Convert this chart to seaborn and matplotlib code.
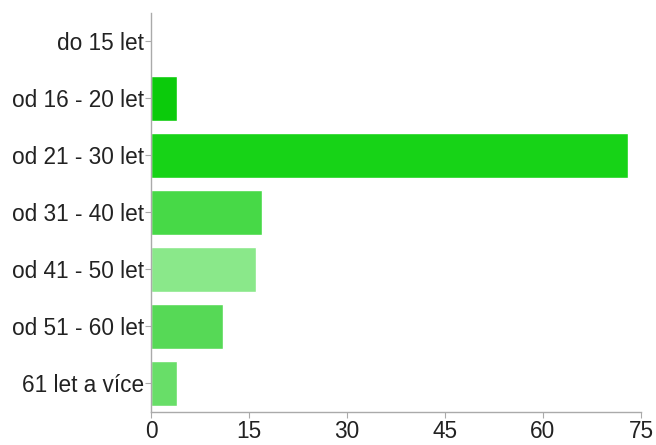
import matplotlib
matplotlib.use("Agg")
import matplotlib.pyplot as plt
import seaborn as sns
import pandas as pd

# Age groups and respondent counts
categories = ["do 15 let", "od 16 - 20 let", "od 21 - 30 let", "od 31 - 40 let",
              "od 41 - 50 let", "od 51 - 60 let", "61 let a více"]
counts = [0, 4, 73, 17, 16, 11, 4]
bar_colors = ["#0bcb0b", "#0bcb0b", "#17d317", "#47d947", "#8ae88a", "#56d956", "#68de68"]
x_ticks = [0, 15, 30, 45, 60, 75]

sns.set_theme(style="white")
plt.rcParams["font.family"] = ["Liberation Sans", "DejaVu Sans"]

df = pd.DataFrame({"skupina": categories, "pocet": counts})

fig = plt.figure(figsize=(6.56, 4.45), dpi=100)
ax = fig.add_axes([0.2302, 0.0742, 0.7469, 0.8966])

sns.barplot(data=df, x="pocet", y="skupina", hue="skupina", palette=bar_colors,
            order=categories, hue_order=categories, legend=False,
            width=0.79, saturation=1, ax=ax)

ax.set_xlim(0, 75)
ax.set_ylim(len(categories) - 0.5, -0.5)
ax.set_xticks(x_ticks)
ax.set_xlabel("")
ax.set_ylabel("")

for side in ["top", "right"]:
    ax.spines[side].set_visible(False)
for side in ["left", "bottom"]:
    ax.spines[side].set_color("#aaaaaa")
    ax.spines[side].set_linewidth(1.0)

ax.tick_params(axis="both", which="both", length=4, width=0.8, color="#aaaaaa",
               labelsize=16.3, labelcolor="#222222", pad=1)
ax.tick_params(axis="x", bottom=True, pad=1.5)
ax.tick_params(axis="y", left=True)

fig.savefig("out.png", dpi=100)
